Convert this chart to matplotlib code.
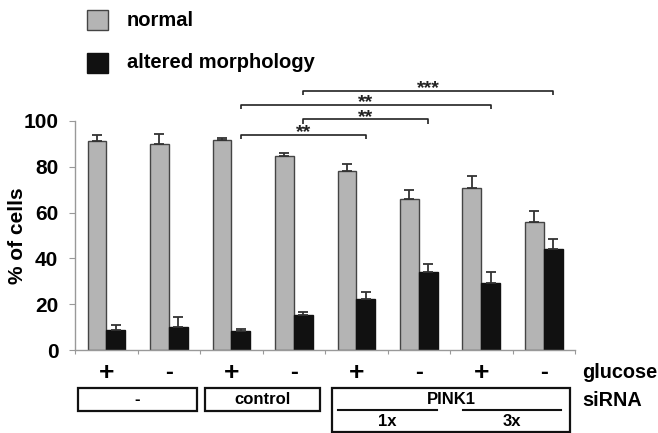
import matplotlib
matplotlib.use("Agg")
import matplotlib.pyplot as plt
from matplotlib.patches import Rectangle
from matplotlib.lines import Line2D

plt.rcParams['font.family'] = ['Liberation Sans', 'DejaVu Sans']
plt.rcParams['font.weight'] = 'bold'

# ---- data ----
glucose = ['+', '-', '+', '-', '+', '-', '+', '-']
normal = [91.3, 90.0, 91.7, 84.7, 78.2, 66.1, 70.9, 56.0]
normal_err = [2.6, 4.3, 0.7, 1.5, 3.2, 3.8, 5.1, 4.6]
altered = [8.7, 10.2, 8.4, 15.3, 22.1, 33.9, 29.1, 44.0]
altered_err = [2.2, 4.1, 0.9, 1.4, 3.1, 3.7, 5.1, 4.3]
yticks = [0, 20, 40, 60, 80, 100]
# significance brackets: (group a, group b, level, stars)
brackets = [(2, 4, 93.9, '**'), (3, 5, 100.7, '**'), (2, 6, 107.0, '**'), (3, 7, 113.1, '***')]

W, H = 658, 433
fig = plt.figure(figsize=(W / 100, H / 100), dpi=100)
L, R, T, B = 75, 575, 121, 350
ax = fig.add_axes([L / W, 1 - B / H, (R - L) / W, (B - T) / H])

gray = '#b4b4b4'
black = '#111111'
edge = '#444444'
n = len(normal)
xs = list(range(n))
bw = 0.3
ekw = dict(ecolor='#333333', elinewidth=1.3, capsize=3.5, capthick=1.3)
ax.bar([x - bw / 2 for x in xs], normal, bw, color=gray, edgecolor=edge, linewidth=1.0,
       yerr=[[0] * n, normal_err], error_kw=ekw)
ax.bar([x + bw / 2 for x in xs], altered, bw, color=black, edgecolor=black, linewidth=1.0,
       yerr=[[0] * n, altered_err], error_kw=ekw)

ax.set_xlim(-0.5, n - 0.5)
ax.set_ylim(0, 100)
ax.set_yticks(yticks)
ax.set_yticklabels([str(v) for v in yticks], fontsize=15, fontweight='bold')
ax.set_xticks([i + 0.5 for i in range(-1, n)])
ax.set_xticklabels([])
ax.tick_params(axis='x', length=3, color='#999999', direction='out')
ax.tick_params(axis='y', length=4, color='#999999', direction='out', pad=8)
for s in ['top', 'right']:
    ax.spines[s].set_visible(False)
for s in ['left', 'bottom']:
    ax.spines[s].set_color('#999999')
    ax.spines[s].set_linewidth(1.0)
ax.set_ylabel('% of cells', fontsize=15, fontweight='bold')
ax.yaxis.set_label_coords((27 - L) / (R - L), 0.5)

# significance brackets
for a, b, lv, st in brackets:
    xa, xb = a + bw / 2, b + bw / 2
    ax.plot([xa, xa, xb, xb], [lv - 1.8, lv, lv, lv - 1.8], color='#222222', lw=1.2,
            clip_on=False, solid_capstyle='butt')
    ax.text((xa + xb) / 2, lv - 1.0, st, ha='center', va='baseline', fontsize=14,
            fontweight='bold', color='#222222', clip_on=False)

# legend
def fy(ypx):
    return 1 - ypx / H

fig.patches.append(Rectangle((87 / W, fy(30)), 21 / W, 20 / H, transform=fig.transFigure,
                             facecolor=gray, edgecolor=edge, linewidth=1.0))
fig.patches.append(Rectangle((87 / W, fy(73)), 21 / W, 20 / H, transform=fig.transFigure,
                             facecolor=black, edgecolor=black, linewidth=1.0))
fig.text(127 / W, fy(21), 'normal', fontsize=14.5, fontweight='bold', va='center', ha='left')
fig.text(127 / W, fy(63), 'altered morphology', fontsize=14.5, fontweight='bold', va='center', ha='left')

# below-axis annotation
tr = ax.get_xaxis_transform()
def ay(ypx):
    return (B - ypx) / (B - T)

for i, g in enumerate(glucose):
    ax.text(i, ay(373), g, ha='center', va='center', fontsize=19 if g == '+' else 17,
            fontweight='bold', transform=tr, clip_on=False)
fig.text(582 / W, fy(372), 'glucose', fontsize=14.3, fontweight='bold', va='center', ha='left')
fig.text(582 / W, fy(400), 'siRNA', fontsize=14.3, fontweight='bold', va='center', ha='left')

def px2x(xpx):
    return (xpx - L) / (R - L) * n - 0.5

boxes = [(78, 197, 388, 411, '-'), (205, 320, 388, 411, 'control'), (332, 570, 388, 432, None)]
for x0, x1, y0, y1, lab in boxes:
    ax.add_patch(Rectangle((px2x(x0), ay(y1)), px2x(x1) - px2x(x0), ay(y0) - ay(y1),
                           transform=tr, facecolor='none', edgecolor='#111111', linewidth=1.6,
                           clip_on=False))
    if lab:
        ax.text((px2x(x0) + px2x(x1)) / 2, ay(399.5), lab, ha='center', va='center', fontsize=12,
                fontweight='bold', transform=tr, clip_on=False)

ax.text(px2x(451), ay(399), 'PINK1', ha='center', va='center', fontsize=12, fontweight='bold',
        transform=tr, clip_on=False)
for x0, x1, lab in [(338, 437, '1x'), (463, 561, '3x')]:
    ax.add_line(Line2D([px2x(x0), px2x(x1)], [ay(410), ay(410)], transform=tr, color='#111111',
                       lw=1.5, clip_on=False))
    ax.text((px2x(x0) + px2x(x1)) / 2, ay(421), lab, ha='center', va='center', fontsize=12,
            fontweight='bold', transform=tr, clip_on=False)

fig.savefig('out.png', dpi=100)
